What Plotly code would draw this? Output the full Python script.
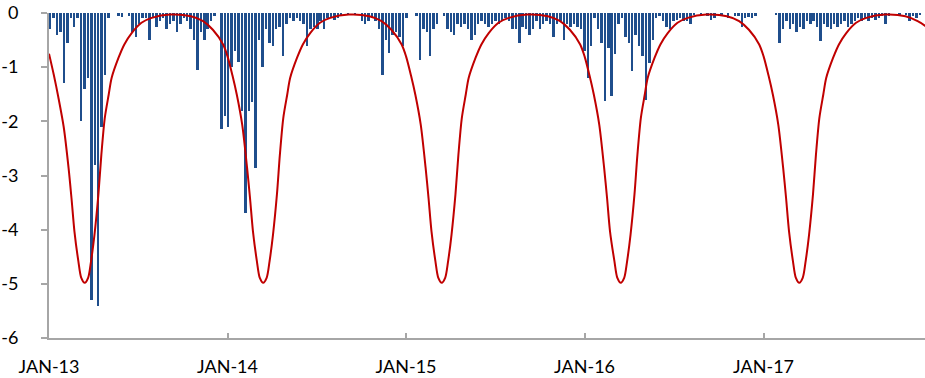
import pandas as pd
import plotly.graph_objects as go

# ---- data ----
tick_dates = ["2013-01-01", "2014-01-01", "2015-01-01", "2016-01-01", "2017-01-01"]
tick_labels = ["JAN-13", "JAN-14", "JAN-15", "JAN-16", "JAN-17"]
y_ticks = [0, -1, -2, -3, -4, -5, -6]

# weekly (deepest) values of the blue series, starting first week of 2013
blue_2013 = [-0.3, -0.1, -0.4, -0.35, -1.3, -0.55, -0.1, -0.25, -0.1, -2.0,
             -1.4, -1.2, -5.3, -2.8, -5.4, -2.1, -1.15, -0.1, 0, 0,
             -0.05, -0.08, 0, -0.05, -0.35, -0.45, -0.2, -0.1, -0.1, -0.5,
             -0.1, -0.25, -0.15, -0.1, -0.3, -0.2, -0.15, -0.35, -0.2, -0.1,
             -0.15, -0.3, -0.5, -1.05, -0.35, -0.5, -0.3, -0.15, -0.05, 0,
             -2.15, -1.9]
blue_2014 = [-2.1, -1.0, -0.7, -0.9, -1.8, -3.7, -1.8, -1.65, -2.87, -0.5,
             -1.0, -0.3, -0.55, -0.6, -0.3, -0.25, -0.8, -0.2, -0.1, -0.15,
             -0.1, -0.15, -0.2, -0.6, -0.3, -0.25, -0.3, -0.15, -0.3, -0.1,
             -0.1, -0.12, -0.1, -0.05, 0, -0.02, 0, -0.03, 0, -0.15,
             -0.2, -0.15, -0.1, -0.15, -0.3, -1.14, -0.5, -0.74, -0.4, -0.35,
             -0.45, -0.6]
blue_2015 = [-0.1, 0, 0, -0.05, -0.86, -0.3, -0.35, -0.8, -0.3, -0.2,
             0, -0.05, -0.3, -0.35, -0.4, -0.2, -0.25, -0.2, -0.3, -0.5,
             -0.4, -0.2, -0.15, -0.2, -0.25, -0.2, -0.15, -0.2, -0.15, -0.1,
             -0.15, -0.3, -0.3, -0.55, -0.25, -0.3, -0.4, -0.3, -0.15, -0.3,
             -0.2, -0.15, -0.2, -0.45, -0.2, -0.15, -0.5, -0.2, -0.25, -0.2,
             -0.25, -0.3]
blue_2016 = [-0.7, -1.2, -0.6, -0.1, -0.3, -0.55, -1.63, -0.65, -1.53, -0.75,
             -0.2, -0.1, -0.45, -0.55, -1.07, -0.4, -0.6, -0.8, -1.6, -0.93,
             -0.5, -0.1, -0.05, -0.15, -0.25, -0.3, -0.15, -0.12, -0.1, -0.15,
             -0.15, -0.2, -0.03, 0, -0.02, 0, -0.05, -0.12, -0.1, 0,
             -0.03, 0, -0.1, 0, -0.05, -0.05, -0.25, -0.1, -0.08, -0.1,
             -0.06, 0]
blue_2017 = [0, 0, 0, 0, -0.02, -0.55, -0.3, -0.15, -0.3, -0.2,
             -0.35, -0.25, -0.3, -0.15, -0.2, -0.15, -0.25, -0.52, -0.2, -0.25,
             -0.3, -0.2, -0.25, -0.2, -0.15, -0.25, -0.2, -0.15, -0.1, -0.15,
             -0.1, -0.15, -0.1, -0.12, -0.1, -0.05, -0.2, -0.05, 0, 0,
             -0.03, 0, -0.03, -0.15, -0.05, -0.1, -0.02, 0]
blue_values = blue_2013 + blue_2014 + blue_2015 + blue_2016 + blue_2017
blue_dates = pd.date_range("2013-01-04", periods=len(blue_values), freq="7D")

# red seasonal curve, sampled points within each year
red_month_days = ["01-01", "01-11", "01-20", "01-31", "02-10", "02-16", "02-22",
                  "03-02", "03-08", "03-15", "03-22", "03-28", "04-04", "04-12",
                  "04-18", "04-25", "05-03", "05-09", "05-23", "06-04", "06-19",
                  "07-09", "07-30", "09-06", "10-18", "11-12", "12-02", "12-23"]
red_2013 = [-0.75, -1.15, -1.55, -2.1, -2.86, -3.42, -4.03, -4.58, -4.89, -4.98,
            -4.89, -4.58, -4.09, -3.35, -2.62, -1.94, -1.51, -1.2, -0.83, -0.58,
            -0.37, -0.18, -0.09, -0.03, -0.06, -0.15, -0.31, -0.58]
red_2014 = [-0.8, -1.15, -1.51, -2.06, -2.86, -3.42, -4.03, -4.58, -4.89, -4.98,
            -4.89, -4.58, -4.09, -3.35, -2.62, -1.94, -1.51, -1.2, -0.83, -0.58,
            -0.37, -0.18, -0.09, -0.03, -0.06, -0.15, -0.31, -0.58]
red_2015 = [-0.8, -1.15, -1.51, -2.06, -2.86, -3.42, -4.03, -4.58, -4.89, -4.98,
            -4.89, -4.58, -4.09, -3.35, -2.62, -1.94, -1.51, -1.2, -0.83, -0.58,
            -0.37, -0.18, -0.09, -0.03, -0.06, -0.15, -0.31, -0.58]
red_2016 = [-0.8, -1.15, -1.51, -2.06, -2.86, -3.42, -4.03, -4.58, -4.89, -4.98,
            -4.89, -4.58, -4.09, -3.35, -2.62, -1.94, -1.51, -1.2, -0.83, -0.58,
            -0.37, -0.18, -0.09, -0.03, -0.06, -0.15, -0.31, -0.58]
red_2017 = [-0.8, -1.15, -1.51, -2.06, -2.86, -3.42, -4.03, -4.58, -4.89, -4.98,
            -4.89, -4.58, -4.09, -3.35, -2.62, -1.94, -1.51, -1.2, -0.83, -0.58,
            -0.37, -0.18, -0.09, -0.03, -0.06, -0.15, -0.27, -0.5]
red_years = [2013, 2014, 2015, 2016, 2017]
red_values = red_2013 + red_2014 + red_2015 + red_2016 + red_2017
red_dates = [f"{yr}-{md}" for yr in red_years for md in red_month_days]

# ---- styles ----
BLUE = "#1f4e8c"
RED = "#c00000"
AXIS = "#a6a6a6"
FONT = dict(family="Lato, Open Sans, sans-serif", size=18, color="#000000")

fig = go.Figure()
fig.add_trace(go.Bar(x=blue_dates, y=blue_values, width=4.0 * 86400000,
                     marker=dict(color=BLUE, line=dict(width=0)), showlegend=False))
fig.add_trace(go.Scatter(x=red_dates, y=red_values, mode="lines",
                         line=dict(color=RED, width=2, shape="spline", smoothing=0.8),
                         showlegend=False))

fig.update_layout(
    width=925, height=378,
    margin=dict(l=49, r=0, t=13, b=40, autoexpand=False),
    paper_bgcolor="white", plot_bgcolor="white",
    font=FONT, showlegend=False, bargap=0,
)
fig.update_xaxes(
    type="date", range=["2013-01-01", "2017-11-27"],
    tickvals=tick_dates, ticktext=tick_labels,
    ticks="inside", ticklen=5, tickwidth=1.5, tickcolor=AXIS,
    showline=True, linecolor=AXIS, linewidth=2,
    showgrid=False, zeroline=False, tickfont=FONT, ticklabelstandoff=11,
    ticklabeloverflow="allow",
)
fig.update_yaxes(
    range=[-6, 0], tickvals=y_ticks, ticktext=[str(v) for v in y_ticks],
    ticks="outside", ticklen=6, tickwidth=1.5, tickcolor=AXIS,
    showline=True, linecolor=AXIS, linewidth=2,
    showgrid=False, zeroline=False, tickfont=FONT, ticklabelstandoff=19,
    ticklabeloverflow="allow",
)

# remove the default 8px page margin so the figure fills the window exactly
fig.write_html("out.html", config={"displayModeBar": False},
               post_script="document.body.style.margin='0';document.body.style.overflow='hidden';")
